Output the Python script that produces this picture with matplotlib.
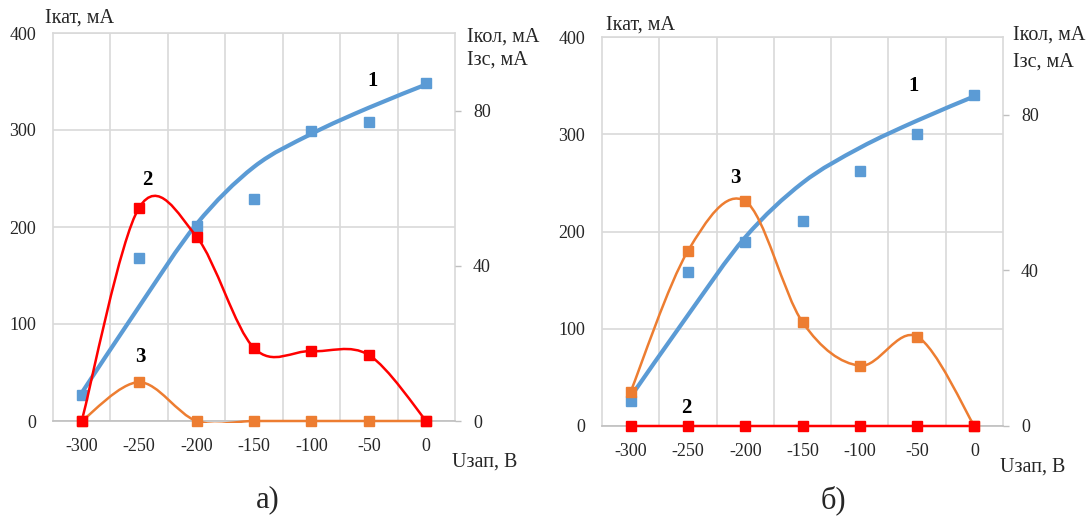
import numpy as np
import matplotlib
matplotlib.use('Agg')
import matplotlib.pyplot as plt
from matplotlib.path import Path
from matplotlib.patches import PathPatch
from matplotlib.transforms import Bbox, TransformedBbox

plt.rcParams['font.family'] = ['Liberation Serif', 'DejaVu Serif']
plt.rcParams['axes.unicode_minus'] = False

# blocking voltage, V
u_zap = [-300, -250, -200, -150, -100, -50, 0]

# panel a)
i_kat_a = [27, 168, 201, 229, 299, 308, 348]          # measured cathode current, mA
i_kat_curve_a = [29, 118, 203, 262, 296, 323, 347]    # smoothed curve 1
i_kol_a = [0, 55, 47.5, 18.8, 18, 17, 0]              # curve 2, right axis
i_zs_a = [0, 10, 0, 0, 0, 0, 0]                       # curve 3, right axis

# panel б)
i_kat_b = [26, 158, 189, 211, 262, 300, 340]
i_kat_curve_b = [30, 114, 194, 250, 286, 314, 339]
i_kol_b = [0, 0, 0, 0, 0, 0, 0]
i_zs_b = [8.8, 45, 57.8, 26.7, 15.5, 23, 0]

left_ticks = [0, 100, 200, 300, 400]
right_ticks = [0, 40, 80]

BLUE = '#5b9bd5'
ORANGE = '#ed7d31'
RED = '#ff0000'
GRID = '#d9d9d9'
TXT = '#262626'


def smooth_path(x, y):
    # excel-like smoothed line: catmull-rom segments as cubic beziers
    pts = np.column_stack([x, y]).astype(float)
    n = len(pts)
    verts = [pts[0]]
    codes = [Path.MOVETO]
    for i in range(n - 1):
        p0 = pts[i - 1] if i > 0 else pts[i]
        p1, p2 = pts[i], pts[i + 1]
        p3 = pts[i + 2] if i + 2 < n else pts[i + 1]
        verts += [p1 + (p2 - p0) / 6, p2 - (p3 - p1) / 6, p2]
        codes += [Path.CURVE4] * 3
    return Path(verts, codes)


def draw_series(ax, x, y, color, lw, curve=None, ms=6.5):
    yy = y if curve is None else curve
    patch = PathPatch(smooth_path(x, yy), facecolor='none', edgecolor=color,
                      linewidth=lw, capstyle='round', zorder=3)
    ax.add_patch(patch)
    # let lines lying on the zero axis show at full width
    patch.set_clip_box(TransformedBbox(Bbox([[0, -0.004], [1, 1]]), ax.transAxes))
    ax.plot(x, y, ls='none', marker='s', ms=ms, color=color, clip_on=False, zorder=4)


def make_panel(rect, kat, kat_curve, kol, zs, labels):
    ax = fig.add_axes(rect)
    ax.set_xlim(-325, 25)
    ax.set_ylim(0, 400)
    ax.set_xticks(u_zap)
    ax.set_xticks(np.arange(-275, 0, 50), minor=True)
    ax.set_yticks(left_ticks)
    ax.grid(True, which='minor', axis='x', color=GRID, lw=1.2)
    ax.grid(True, which='major', axis='y', color=GRID, lw=1.2)
    ax.tick_params(axis='x', which='both', length=0, pad=12, labelsize=13, labelcolor=TXT)
    ax.tick_params(axis='y', length=0, pad=12, labelsize=13, labelcolor=TXT)
    for s in ['left', 'top', 'right']:
        ax.spines[s].set_color(GRID)
        ax.spines[s].set_linewidth(1.2)
    ax.spines['bottom'].set_color('#bfbfbf')
    ax.spines['bottom'].set_linewidth(1.2)
    ax.set_axisbelow(True)

    draw_series(ax, u_zap, kat, BLUE, 3.0, curve=kat_curve)

    ax2 = ax.twinx()
    ax2.set_ylim(0, 100)
    ax2.set_yticks(right_ticks)
    ax2.tick_params(axis='y', length=4, width=1, color='#bfbfbf', pad=9,
                    labelsize=13, labelcolor=TXT)
    for s in ax2.spines.values():
        s.set_visible(False)
    draw_series(ax2, u_zap, zs, ORANGE, 1.8)
    draw_series(ax2, u_zap, kol, RED, 1.8)

    for txt, x, y in labels:
        ax.text(x, y, txt, fontsize=15, fontweight='bold', ha='center', va='center',
                color='black', zorder=6)
    return ax, ax2


fig = plt.figure(figsize=(10.92, 5.18), dpi=100)

make_panel([53 / 1092, 1 - 421 / 518, 402 / 1092, 388 / 518],
           i_kat_a, i_kat_curve_a, i_kol_a, i_zs_a,
           [('1', -47, 351), ('2', -243, 248), ('3', -249, 66)])
make_panel([602 / 1092, 1 - 426 / 518, 401 / 1092, 389 / 518],
           i_kat_b, i_kat_curve_b, i_kol_b, i_zs_b,
           [('1', -53, 350), ('3', -209, 255), ('2', -251, 18.5)])


def ftext(x, y, s, size=14.5, ha='left'):
    fig.text(x / 1092, 1 - y / 518, s, fontsize=size, ha=ha, va='center', color=TXT)


ftext(45, 18, 'Iкат, мА')
ftext(467, 37, 'Iкол, мА')
ftext(467, 60, 'Iзс, мА')
ftext(452, 462, 'Uзап, В')
ftext(268, 500, 'а)', size=22, ha='center')

ftext(606, 25, 'Iкат, мА')
ftext(1013, 35, 'Iкол, мА')
ftext(1013, 62, 'Iзс, мА')
ftext(1000, 467, 'Uзап, В')
ftext(833, 500, 'б)', size=22, ha='center')

fig.savefig('out.png', dpi=100)
